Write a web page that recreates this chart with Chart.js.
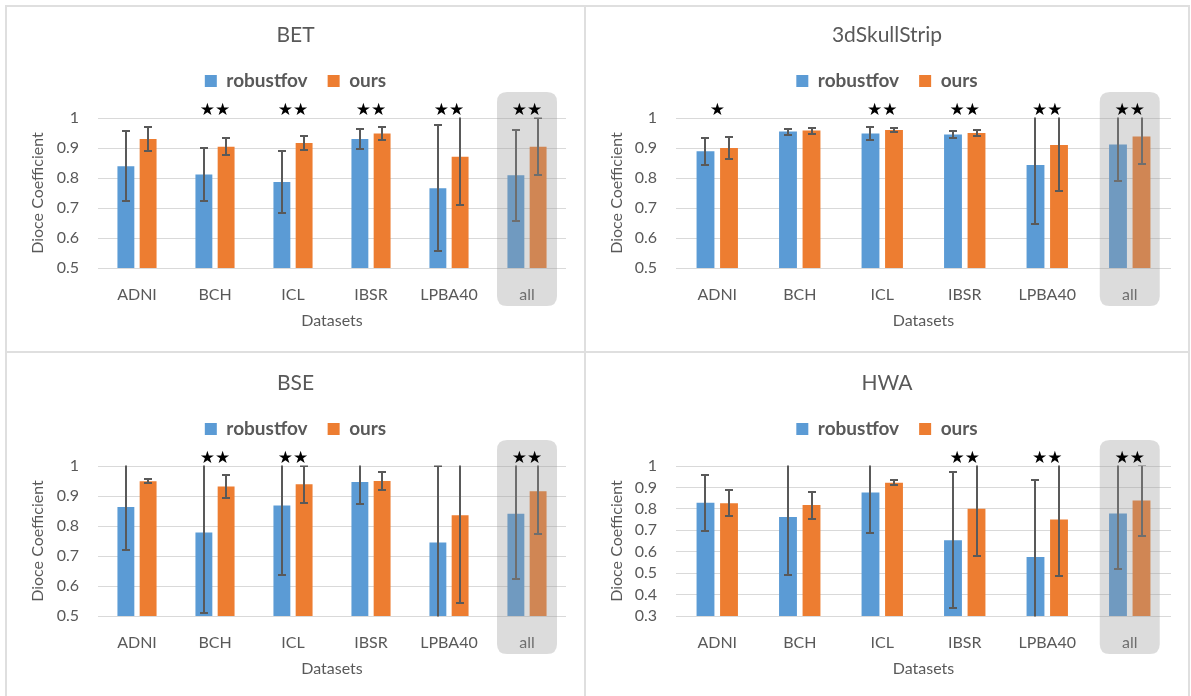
<!DOCTYPE html>
<html>
<head>
<meta charset="utf-8">
<script src="https://cdn.jsdelivr.net/npm/chart.js@4.4.0/dist/chart.umd.min.js"></script>
<style>
  html, body { margin: 0; padding: 0; background: #fff; }
  #page { position: relative; width: 1191px; height: 696px; overflow: hidden; background: #fff; }
  .rule { position: absolute; background: #dfdfdf; }
  canvas { position: absolute; }
</style>
</head>
<body>
<div id="page">
  <div class="rule" style="left:5px;top:5px;width:1185px;height:2px"></div>
  <div class="rule" style="left:5px;top:351px;width:1185px;height:2px"></div>
  <div class="rule" style="left:5px;top:5px;width:2px;height:691px"></div>
  <div class="rule" style="left:584px;top:5px;width:2px;height:691px"></div>
  <div class="rule" style="left:1188px;top:5px;width:2px;height:691px"></div>
  <canvas id="pBET" width="577" height="344" style="left:7px;top:7px"></canvas>
  <canvas id="p3d" width="602" height="344" style="left:586px;top:7px"></canvas>
  <canvas id="pBSE" width="577" height="341" style="left:7px;top:355px"></canvas>
  <canvas id="pHWA" width="602" height="341" style="left:586px;top:355px"></canvas>
</div>
<script>
// ---- data ----
const categories = ['ADNI', 'BCH', 'ICL', 'IBSR', 'LPBA40', 'all'];
const seriesNames = ['robustfov', 'ours'];
const xAxisTitle = 'Datasets';
const yAxisTitle = 'Dioce Coefficient';
const ticksFrom05 = [0.5, 0.6, 0.7, 0.8, 0.9, 1];
const ticksFrom03 = [0.3, 0.4, 0.5, 0.6, 0.7, 0.8, 0.9, 1];

const betRobust   = [0.839, 0.812, 0.787, 0.930, 0.766, 0.809];
const betRobustSd = [0.117, 0.088, 0.103, 0.034, 0.211, 0.151];
const betOurs     = [0.930, 0.904, 0.917, 0.948, 0.871, 0.904];
const betOursSd   = [0.040, 0.028, 0.024, 0.022, 0.160, 0.095];
const betStars    = ['', '★★', '★★', '★★', '★★', '★★'];

const skullRobust   = [0.889, 0.955, 0.948, 0.945, 0.843, 0.912];
const skullRobustSd = [0.046, 0.010, 0.022, 0.012, 0.196, 0.121];
const skullOurs     = [0.900, 0.958, 0.960, 0.950, 0.910, 0.938];
const skullOursSd   = [0.037, 0.010, 0.008, 0.011, 0.152, 0.092];
const skullStars    = ['★', '', '★★', '★★', '★★', '★★'];

const bseRobust   = [0.863, 0.778, 0.868, 0.947, 0.745, 0.841];
const bseRobustSd = [0.143, 0.267, 0.232, 0.072, 0.255, 0.219];
const bseOurs     = [0.949, 0.932, 0.939, 0.950, 0.836, 0.916];
const bseOursSd   = [0.007, 0.039, 0.061, 0.031, 0.291, 0.141];
const bseStars    = ['', '★★', '★★', '', '', '★★'];

const hwaRobust   = [0.829, 0.762, 0.876, 0.654, 0.575, 0.778];
const hwaRobustSd = [0.130, 0.271, 0.191, 0.318, 0.358, 0.259];
const hwaOurs     = [0.826, 0.818, 0.922, 0.800, 0.750, 0.839];
const hwaOursSd   = [0.060, 0.063, 0.012, 0.221, 0.264, 0.165];
const hwaStars    = ['', '', '', '★★', '★★', '★★'];

const highlightCategory = 'all';

// ---- style ----
const FONT = 'Lato, "Open Sans", sans-serif';
const TEXT = '#595959';
const BLUE = '#5b9bd5';
const ORANGE = '#ed7d31';

function roundedRect(ctx, x, y, w, h, r) {
  ctx.beginPath();
  ctx.moveTo(x + r, y);
  ctx.lineTo(x + w - r, y);
  ctx.quadraticCurveTo(x + w, y, x + w, y + r);
  ctx.lineTo(x + w, y + h - r);
  ctx.quadraticCurveTo(x + w, y + h, x + w - r, y + h);
  ctx.lineTo(x + r, y + h);
  ctx.quadraticCurveTo(x, y + h, x, y + h - r);
  ctx.lineTo(x, y + r);
  ctx.quadraticCurveTo(x, y, x + r, y);
  ctx.closePath();
}

// empty band between the legend and the plot, where the stars sit
const starBand = {
  id: 'starBand',
  beforeInit(chart, args, opts) {
    Chart.layouts.addBox(chart, {
      position: 'top', weight: 900, fullSize: true, options: {},
      isHorizontal() { return true; },
      update(maxWidth) { this.width = maxWidth; this.height = opts.size; },
      draw() {}
    });
  }
};

// standard-deviation whiskers, cut off at the axis range
const errorBars = {
  id: 'errorBars',
  afterDatasetsDraw(chart, args, opts) {
    const { ctx, chartArea: a, scales: { y } } = chart;
    ctx.save();
    ctx.beginPath();
    ctx.rect(a.left, a.top - 0.5, a.right - a.left, a.bottom - a.top + 1);
    ctx.clip();
    ctx.strokeStyle = opts.color;
    ctx.lineWidth = opts.width;
    chart.data.datasets.forEach((ds, i) => {
      chart.getDatasetMeta(i).data.forEach((bar, j) => {
        const v = ds.data[j], e = ds.spread[j];
        const x = Math.round(bar.x);
        const hi = Math.round(y.getPixelForValue(v + e));
        const lo = Math.round(y.getPixelForValue(v - e));
        ctx.beginPath();
        ctx.moveTo(x, hi); ctx.lineTo(x, lo);
        ctx.moveTo(x - opts.cap, hi); ctx.lineTo(x + opts.cap, hi);
        ctx.moveTo(x - opts.cap, lo); ctx.lineTo(x + opts.cap, lo);
        ctx.stroke();
      });
    });
    ctx.restore();
  }
};

// shaded "all" group and significance stars
const groupMarks = {
  id: 'groupMarks',
  afterDraw(chart, args, opts) {
    const { ctx, chartArea: a, scales: { x } } = chart;
    const cx = x.getPixelForValue(categories.indexOf(opts.highlight));
    ctx.save();
    ctx.fillStyle = opts.shade;
    roundedRect(ctx, cx - 30, a.top - 26, 60, a.bottom - a.top + 64, 10);
    ctx.fill();
    ctx.fillStyle = '#000';
    ctx.font = '17px "DejaVu Sans"';
    ctx.textAlign = 'center';
    ctx.textBaseline = 'middle';
    opts.stars.forEach((s, i) => {
      if (s) ctx.fillText(s, x.getPixelForValue(i), a.top - 7.5);
    });
    ctx.restore();
  }
};

function makePanel(id, p) {
  const lowest = p.ticks[0];
  const highest = p.ticks[p.ticks.length - 1];
  return new Chart(document.getElementById(id), {
    type: 'bar',
    data: {
      labels: categories,
      datasets: [
        { label: seriesNames[0], data: p.robust, spread: p.robustSd, backgroundColor: BLUE, borderWidth: 0,
          categoryPercentage: 0.57, barPercentage: 0.76 },
        { label: seriesNames[1], data: p.ours, spread: p.oursSd, backgroundColor: ORANGE, borderWidth: 0,
          categoryPercentage: 0.57, barPercentage: 0.76 }
      ]
    },
    options: {
      responsive: false,
      animation: false,
      devicePixelRatio: 1,
      events: [],
      layout: { padding: { left: 0, right: 0, top: 0, bottom: p.padBottom } },
      plugins: {
        title: {
          display: true, text: p.title, color: TEXT,
          font: { family: FONT, size: 21, weight: 'normal', lineHeight: 1.2 },
          padding: { top: 15.4, bottom: 3.9 }
        },
        legend: {
          display: true, position: 'top',
          labels: {
            color: TEXT, boxWidth: 12, boxHeight: 12, padding: 20,
            font: { family: FONT, size: 19, weight: 'bold' }
          }
        },
        tooltip: { enabled: false },
        starBand: { size: 17.5 },
        errorBars: { color: '#595959', width: 2, cap: 4 },
        groupMarks: { stars: p.stars, highlight: highlightCategory, shade: 'rgba(152,152,152,0.34)' }
      },
      scales: {
        x: {
          grid: { display: false, drawTicks: false },
          border: { display: false },
          ticks: { color: TEXT, font: { family: FONT, size: 16 }, padding: 17, maxRotation: 0, autoSkip: false },
          title: { display: true, text: xAxisTitle, color: TEXT, font: { family: FONT, size: 16 },
                   padding: { top: 0, bottom: 0 } },
          afterFit(s) { s.height = 62; s.paddingRight = p.rightGap; }
        },
        y: {
          min: lowest,
          max: highest,
          afterBuildTicks(s) { s.ticks = p.ticks.map(v => ({ value: v })); },
          grid: { color: '#d9d9d9', lineWidth: 1, drawTicks: false },
          border: { display: false },
          ticks: { color: TEXT, font: { family: FONT, size: 16 }, padding: 19, autoSkip: false,
                   callback: v => String(+v.toFixed(1)) },
          title: { display: true, text: yAxisTitle, color: TEXT, font: { family: FONT, size: 16 },
                   padding: { top: 21.5, bottom: 0 } },
          afterFit(s) { s.width = p.axisWidth; }
        }
      }
    },
    plugins: [starBand, errorBars, groupMarks]
  });
}

makePanel('pBET', { title: 'BET', robust: betRobust, robustSd: betRobustSd, ours: betOurs, oursSd: betOursSd,
  stars: betStars, ticks: ticksFrom05, padBottom: 21, axisWidth: 91, rightGap: 18 });
makePanel('p3d', { title: '3dSkullStrip', robust: skullRobust, robustSd: skullRobustSd, ours: skullOurs, oursSd: skullOursSd,
  stars: skullStars, ticks: ticksFrom05, padBottom: 21, axisWidth: 90, rightGap: 17 });
makePanel('pBSE', { title: 'BSE', robust: bseRobust, robustSd: bseRobustSd, ours: bseOurs, oursSd: bseOursSd,
  stars: bseStars, ticks: ticksFrom05, padBottom: 18, axisWidth: 91, rightGap: 18 });
makePanel('pHWA', { title: 'HWA', robust: hwaRobust, robustSd: hwaRobustSd, ours: hwaOurs, oursSd: hwaOursSd,
  stars: hwaStars, ticks: ticksFrom03, padBottom: 18, axisWidth: 90, rightGap: 17 });
</script>
</body>
</html>
